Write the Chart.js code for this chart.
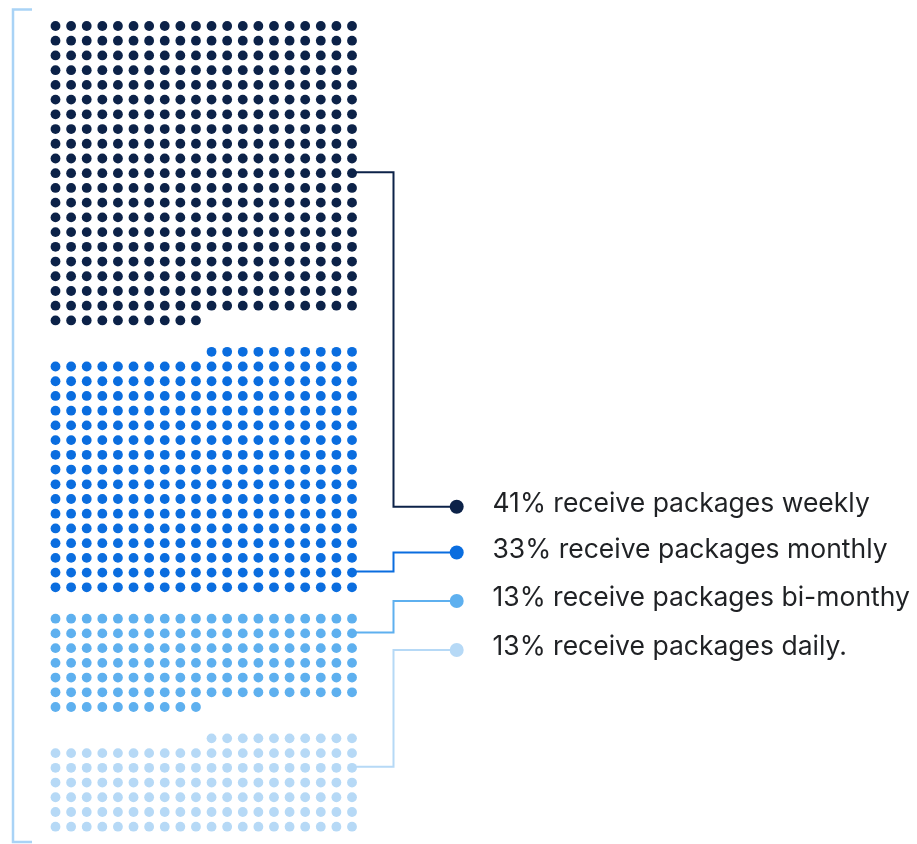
<!DOCTYPE html>
<html>
<head>
<meta charset="utf-8">
<script src="https://cdn.jsdelivr.net/npm/chart.js@4/dist/chart.umd.min.js"></script>
<style>
  html, body { margin: 0; padding: 0; background: #fff; }
  #wrap { position: relative; width: 917px; height: 844px; }
</style>
</head>
<body>
<div id="wrap"><canvas id="waffle" width="917" height="844"></canvas></div>
<script>
// data
var categories = ['weekly', 'monthly', 'bi-monthy', 'daily'];
var percents = [41, 33, 13, 13];
var labels = ['41% receive packages weekly', '33% receive packages monthly', '13% receive packages bi-monthy', '13% receive packages daily.'];
var colors = ['#0c2248', '#0a6ddf', '#5eb0ef', '#b6d9f6'];
var fillFrom = ['top', 'bottom', 'top', 'bottom'];
var connectorRow = [10, 15, 1, 2];

var COLS = 20, DOTS_PER_PCT = 10, GAP = 1.13;

// build the dot grid
var datasets = [];
var groupStart = [];
var start = 0;
for (var g = 0; g < categories.length; g++) {
  var count = percents[g] * DOTS_PER_PCT;
  var rows = Math.ceil(count / COLS);
  var cells = rows * COLS;
  var pts = [];
  for (var i = 0; i < count; i++) {
    var j = fillFrom[g] == 'top' ? i : cells - count + i;
    pts.push({ x: j % COLS, y: start + Math.floor(j / COLS) });
  }
  groupStart.push(start);
  datasets.push({
    label: categories[g],
    data: pts,
    backgroundColor: colors[g],
    borderWidth: 0,
    pointRadius: 4.9,
    pointHoverRadius: 4.9,
    clip: false
  });
  start += rows + GAP;
}
var yMax = start - GAP - 1;

var legendX = 456.7, legendY = [506.7, 552.5, 601, 650], elbowX = 393.5;

var callouts = {
  id: 'callouts',
  beforeDatasetsDraw: function (chart) {
    var ctx = chart.ctx, xs = chart.scales.x, ys = chart.scales.y;
    ctx.save();
    // bracket on the left
    ctx.strokeStyle = '#a9d3f6';
    ctx.lineWidth = 2.5;
    ctx.beginPath();
    ctx.moveTo(32, 9.5);
    ctx.lineTo(13, 9.5);
    ctx.lineTo(13, 842);
    ctx.lineTo(32, 842);
    ctx.stroke();

    for (var g = 0; g < categories.length; g++) {
      var sx = xs.getPixelForValue(COLS - 1);
      var sy = ys.getPixelForValue(groupStart[g] + connectorRow[g]) - 1;
      ctx.strokeStyle = colors[g];
      ctx.lineWidth = 2;
      ctx.beginPath();
      ctx.moveTo(sx, sy);
      ctx.lineTo(elbowX, sy);
      ctx.lineTo(elbowX, legendY[g]);
      ctx.lineTo(legendX, legendY[g]);
      ctx.stroke();
      ctx.fillStyle = colors[g];
      ctx.beginPath();
      ctx.arc(legendX, legendY[g], 7, 0, Math.PI * 2);
      ctx.fill();
      ctx.fillStyle = '#1f2124';
      ctx.font = '26.5px Inter';
      ctx.textBaseline = 'middle';
      ctx.fillText(labels[g], 492.5, legendY[g] - 2.5);
    }
    ctx.restore();
  }
};

new Chart(document.getElementById('waffle'), {
  type: 'scatter',
  data: { datasets: datasets },
  options: {
    responsive: false,
    animation: false,
    events: [],
    layout: { padding: { left: 55.5, right: 565, top: 26, bottom: 17.3 } },
    plugins: { legend: { display: false }, tooltip: { enabled: false } },
    scales: {
      x: { type: 'linear', display: false, min: 0, max: COLS - 1 },
      y: { type: 'linear', display: false, reverse: true, min: 0, max: yMax }
    }
  },
  plugins: [callouts]
});
</script>
</body>
</html>
